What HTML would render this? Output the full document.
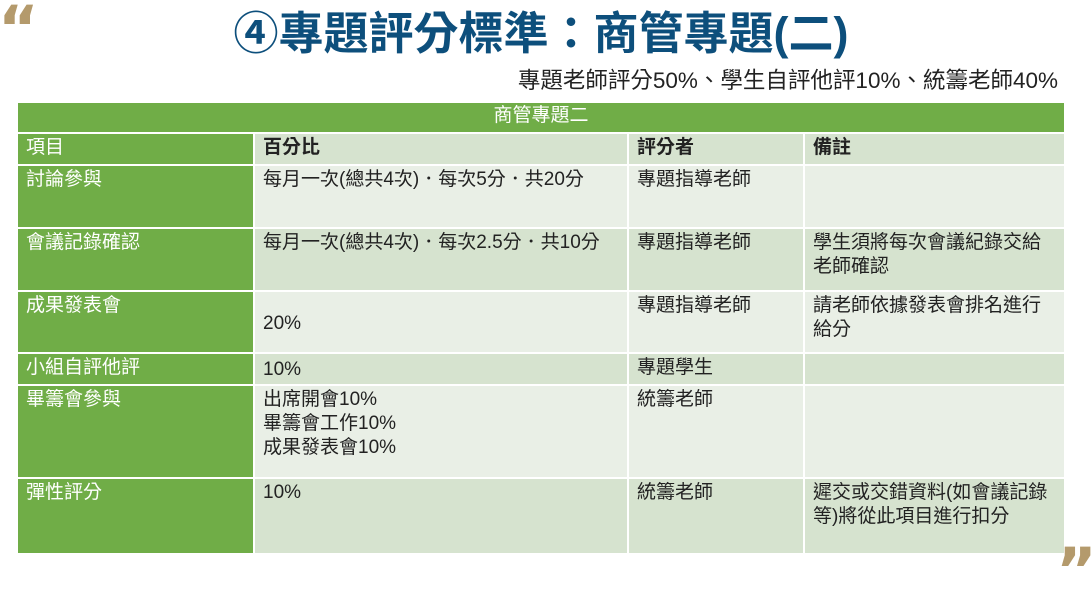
<!DOCTYPE html>
<html><head><meta charset="utf-8"><style>
body{margin:0;width:1092px;height:585px;background:#fff;position:relative;overflow:hidden;font-family:"Liberation Sans","Noto Sans CJK TC",sans-serif}
.a{position:absolute;box-sizing:border-box}
.c{position:absolute;box-sizing:border-box;padding:2px 8px;font-size:19px;line-height:24px;color:#222}
.g{background:#70ad47;color:#fff}
.l{background:#e9efe6}
.d{background:#d6e3cf}
</style></head><body>
<div class="a" style="left:-2px;top:-6px;font-size:62px;font-weight:bold;color:#b49a6c;font-family:'DejaVu Sans',sans-serif;line-height:70px">“</div>
<div class="a" style="left:1056px;top:536px;font-size:62px;font-weight:bold;color:#b49a6c;font-family:'DejaVu Sans',sans-serif;line-height:70px">”</div>
<div class="a" style="left:0;width:1082px;top:6px;text-align:center;font-size:45px;font-weight:bold;color:#0d4f7c;line-height:56px">④專題評分標準：商管專題(二)</div>
<div class="a" style="right:34px;top:67px;font-size:22.5px;color:#222;line-height:28px">專題老師評分50%、學生自評他評10%、統籌老師40%</div>
<div class="c g" style="left:18px;top:103px;width:1046px;height:29px;text-align:center;padding-top:1px">商管專題二</div>
<div class="c g" style="left:18px;top:134px;width:235px;height:30px">項目</div>
<div class="c d" style="left:255px;top:134px;width:372px;height:30px;font-weight:bold">百分比</div>
<div class="c d" style="left:629px;top:134px;width:174px;height:30px;font-weight:bold">評分者</div>
<div class="c d" style="left:805px;top:134px;width:259px;height:30px;font-weight:bold">備註</div>
<div class="c g" style="left:18px;top:166px;width:235px;height:61px">討論參與</div>
<div class="c l" style="left:255px;top:166px;width:372px;height:61px;white-space:nowrap">每月一次(總共4次)．每次5分．共20分</div>
<div class="c l" style="left:629px;top:166px;width:174px;height:61px">專題指導老師</div>
<div class="c l" style="left:805px;top:166px;width:259px;height:61px"></div>
<div class="c g" style="left:18px;top:229px;width:235px;height:61px">會議記錄確認</div>
<div class="c d" style="left:255px;top:229px;width:372px;height:61px;white-space:nowrap">每月一次(總共4次)．每次2.5分．共10分</div>
<div class="c d" style="left:629px;top:229px;width:174px;height:61px">專題指導老師</div>
<div class="c d" style="left:805px;top:229px;width:259px;height:61px">學生須將每次會議紀錄交給<br>老師確認</div>
<div class="c g" style="left:18px;top:292px;width:235px;height:60px">成果發表會</div>
<div class="c l" style="left:255px;top:292px;width:372px;height:60px;padding-top:20px">20%</div>
<div class="c l" style="left:629px;top:292px;width:174px;height:60px">專題指導老師</div>
<div class="c l" style="left:805px;top:292px;width:259px;height:60px">請老師依據發表會排名進行<br>給分</div>
<div class="c g" style="left:18px;top:354px;width:235px;height:30px">小組自評他評</div>
<div class="c d" style="left:255px;top:354px;width:372px;height:30px;padding-top:4px">10%</div>
<div class="c d" style="left:629px;top:354px;width:174px;height:30px">專題學生</div>
<div class="c d" style="left:805px;top:354px;width:259px;height:30px"></div>
<div class="c g" style="left:18px;top:386px;width:235px;height:91px">畢籌會參與</div>
<div class="c l" style="left:255px;top:386px;width:372px;height:91px">出席開會10%<br>畢籌會工作10%<br>成果發表會10%</div>
<div class="c l" style="left:629px;top:386px;width:174px;height:91px">統籌老師</div>
<div class="c l" style="left:805px;top:386px;width:259px;height:91px"></div>
<div class="c g" style="left:18px;top:479px;width:235px;height:74px">彈性評分</div>
<div class="c d" style="left:255px;top:479px;width:372px;height:74px">10%</div>
<div class="c d" style="left:629px;top:479px;width:174px;height:74px">統籌老師</div>
<div class="c d" style="left:805px;top:479px;width:259px;height:74px">遲交或交錯資料(如會議記錄<br>等)將從此項目進行扣分</div>
</body></html>
